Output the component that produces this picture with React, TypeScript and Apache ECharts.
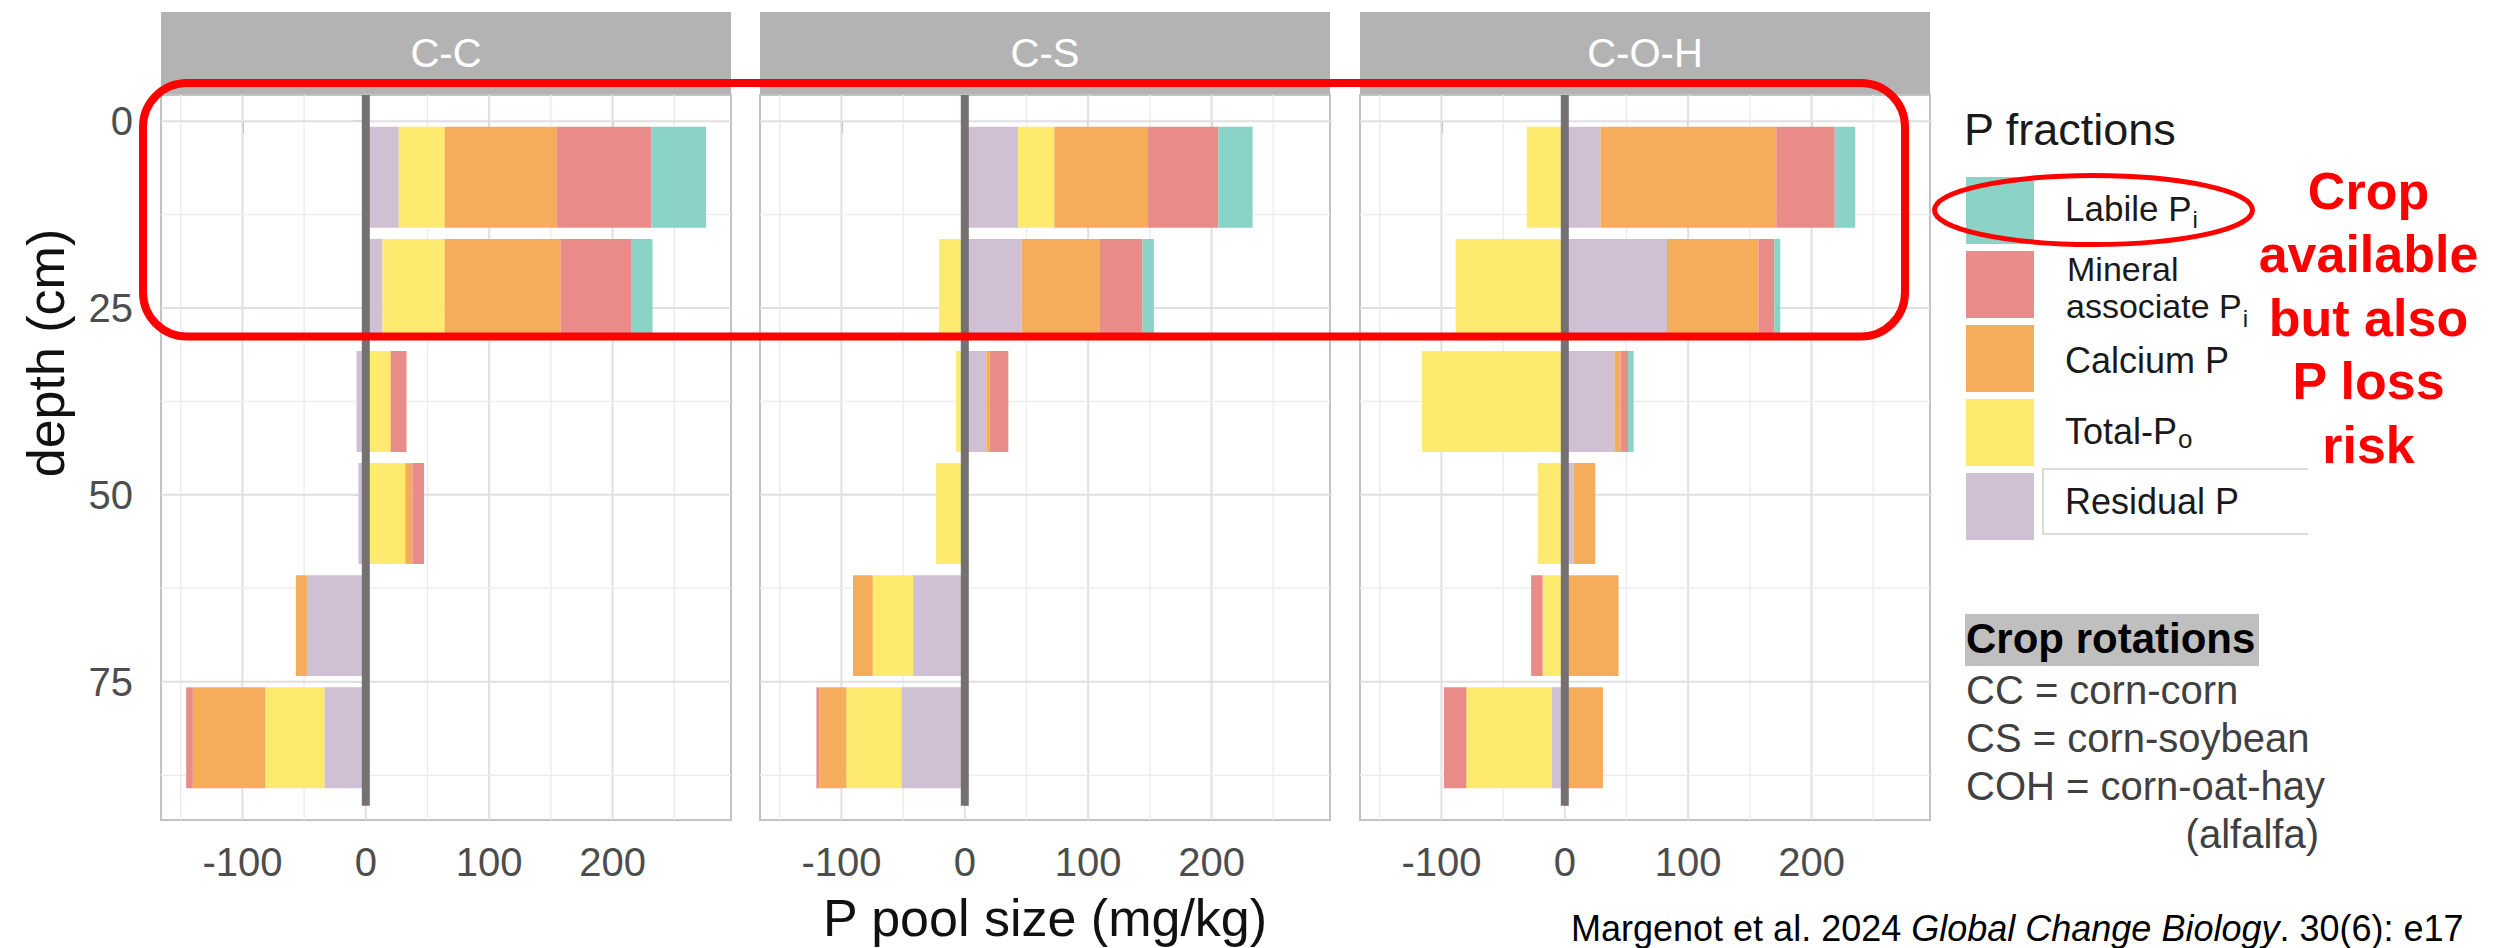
import React, { useEffect, useRef } from 'react';
import * as echarts from 'echarts';

// ---------------- data ----------------
const panelNames = ['C-C', 'C-S', 'C-O-H'];
const depths = [7.5, 22.5, 37.5, 52.5, 67.5, 82.5];
// stacking order from zero outward
const fractionKeys = ['Residual P', 'Total-Po', 'Calcium P', 'Mineral associate Pi', 'Labile Pi'];
const fractionColors = ['#CFC0D3', '#FEEA6E', '#F5AC5B', '#E98B88', '#8AD3C6'];

// C-C (mg/kg per depth)
const ccResidual = [26.7, 13.5, -7.5, -6, -47.8, -33.6];
const ccTotalPo = [37.2, 50.4, 20.2, 32, 0, -47.9];
const ccCalcium = [90.9, 94.1, 0, 5.8, -8.9, -58.7];
const ccMineral = [76.8, 57, 12.8, 9.4, 0, -5.4];
const ccLabile = [44.2, 17.4, 0, 0, 0, 0];

// C-S
const csResidual = [43.2, 46.1, 17.4, 0, -41.9, -51.5];
const csTotalPo = [29.4, -20.8, -7, -23.3, -32.7, -44.5];
const csCalcium = [75.3, 63.4, 2.6, 0, -16, -21.8];
const csMineral = [57.6, 34.5, 15.3, 0, 0, -2.5];
const csLabile = [27.8, 9.3, 0, 0, 0, 0];

// C-O-H
const cohResidual = [29, 82.8, 40.4, 7.2, 0, -10.4];
const cohTotalPo = [-30.8, -88.5, -115.7, -22, -18, -69.4];
const cohCalcium = [142.4, 74.2, 4.8, 17.5, 43.6, 30.9];
const cohMineral = [47.4, 12.8, 6, 0, -9.3, -18.2];
const cohLabile = [16.6, 4.8, 4.6, 0, 0, 0];

const panelValues = [
  [ccResidual, ccTotalPo, ccCalcium, ccMineral, ccLabile],
  [csResidual, csTotalPo, csCalcium, csMineral, csLabile],
  [cohResidual, cohTotalPo, cohCalcium, cohMineral, cohLabile],
];

const xTickValues = [-100, 0, 100, 200];
const xMinorValues = [-150, -50, 50, 150, 250];
const yTickValues = [0, 25, 50, 75];
const yMinorValues = [12.5, 37.5, 62.5, 87.5];

// ---------------- layout / style ----------------
const FONT = "'Liberation Sans', Arial, Helvetica, sans-serif";
const PANEL_LEFT = [161, 760, 1360];
const PANEL_TOP = 95;
const PANEL_W = 570;
const PANEL_H = 725;
const X_MIN = -166;
const X_MAX = 296;
const Y_MIN = -3.5;
const Y_MAX = 93.5;
const BAR_HALF = 6.75;
const ZERO_LINE_END = 91.6;

function stackPanel(values: number[][]) {
  const pos = depths.map(() => 0);
  const neg = depths.map(() => 0);
  return values.map((arr) => {
    const out: number[][] = [];
    arr.forEach((v, j) => {
      if (!v) return;
      if (v > 0) {
        out.push([pos[j], pos[j] + v, depths[j]]);
        pos[j] += v;
      } else {
        out.push([neg[j], neg[j] + v, depths[j]]);
        neg[j] += v;
      }
    });
    return out;
  });
}

function barRenderer(color: string) {
  return (params: any, api: any) => {
    const a = api.value(0);
    const b = api.value(1);
    const d = api.value(2);
    const p0 = api.coord([a, d - BAR_HALF]);
    const p1 = api.coord([b, d + BAR_HALF]);
    return {
      type: 'rect',
      shape: {
        x: Math.min(p0[0], p1[0]),
        y: Math.min(p0[1], p1[1]),
        width: Math.abs(p1[0] - p0[0]),
        height: Math.abs(p1[1] - p0[1]),
      },
      style: { fill: color },
    };
  };
}

function vGridRenderer(params: any, api: any) {
  const cs = params.coordSys;
  const p = api.coord([api.value(0), 0]);
  const major = api.value(2) === 1;
  return {
    type: 'line',
    shape: { x1: p[0], y1: cs.y, x2: p[0], y2: cs.y + cs.height },
    style: { stroke: major ? '#E0E0E0' : '#EDEDED', lineWidth: major ? 2 : 1.5 },
  };
}

function hGridRenderer(params: any, api: any) {
  const cs = params.coordSys;
  const p = api.coord([0, api.value(1)]);
  const major = api.value(2) === 1;
  return {
    type: 'line',
    shape: { x1: cs.x, y1: p[1], x2: cs.x + cs.width, y2: p[1] },
    style: { stroke: major ? '#E0E0E0' : '#EDEDED', lineWidth: major ? 2 : 1.5 },
  };
}

function zeroLineRenderer(params: any, api: any) {
  const p0 = api.coord([api.value(0), api.value(1)]);
  const p1 = api.coord([api.value(0), api.value(2)]);
  return {
    type: 'line',
    shape: { x1: p0[0], y1: p0[1], x2: p1[0], y2: p1[1] },
    style: { stroke: '#767171', lineWidth: 8 },
  };
}

function txt(x: number, y: number, text: string, fontSize: number, o: any = {}) {
  return {
    type: 'text',
    x,
    y,
    z: o.z ?? 50,
    rotation: o.rotation ?? 0,
    silent: true,
    style: {
      text,
      fontSize,
      fontFamily: FONT,
      fontWeight: o.fontWeight ?? 'normal',
      fontStyle: o.fontStyle ?? 'normal',
      fill: o.fill ?? '#1A1A1A',
      align: o.align ?? 'left',
      verticalAlign: 'middle',
      rich: o.rich,
    },
  };
}

function buildOption() {
  const grid = PANEL_LEFT.map((l) => ({
    left: l,
    top: PANEL_TOP,
    width: PANEL_W,
    height: PANEL_H,
    show: true,
    backgroundColor: '#FFFFFF',
    borderColor: '#C2C2C2',
    borderWidth: 2,
    containLabel: false,
    outerBoundsMode: 'none',
  }));

  const xAxis = PANEL_LEFT.map((_, i) => ({
    gridIndex: i,
    type: 'value',
    min: X_MIN,
    max: X_MAX,
    axisLine: { show: false },
    splitLine: { show: false },
    axisTick: { show: true, customValues: xTickValues, length: 12, lineStyle: { color: '#B3B3B3', width: 2 } },
    axisLabel: {
      customValues: xTickValues,
      color: '#4D4D4D',
      fontSize: 40,
      fontFamily: FONT,
      margin: 22,
    },
  }));

  const yAxis = PANEL_LEFT.map((_, i) => ({
    gridIndex: i,
    type: 'value',
    inverse: true,
    min: Y_MIN,
    max: Y_MAX,
    axisLine: { show: false },
    splitLine: { show: false },
    axisTick: { show: i === 0, customValues: yTickValues, length: 12, lineStyle: { color: '#B3B3B3', width: 2 } },
    axisLabel: {
      show: i === 0,
      customValues: yTickValues,
      color: '#4D4D4D',
      fontSize: 40,
      fontFamily: FONT,
      margin: 28,
    },
  }));

  const series: any[] = [];
  panelValues.forEach((vals, i) => {
    series.push({
      type: 'custom',
      name: 'vgrid' + i,
      xAxisIndex: i,
      yAxisIndex: i,
      z: 1,
      silent: true,
      encode: { x: 0, y: 1 },
      data: [...xTickValues.map((v) => [v, 0, 1]), ...xMinorValues.map((v) => [v, 0, 0])],
      renderItem: vGridRenderer,
    });
    series.push({
      type: 'custom',
      name: 'hgrid' + i,
      xAxisIndex: i,
      yAxisIndex: i,
      z: 1,
      silent: true,
      encode: { x: 0, y: 1 },
      data: [...yTickValues.map((v) => [0, v, 1]), ...yMinorValues.map((v) => [0, v, 0])],
      renderItem: hGridRenderer,
    });
    const stacks = stackPanel(vals);
    stacks.forEach((data, f) => {
      series.push({
        type: 'custom',
        name: fractionKeys[f],
        xAxisIndex: i,
        yAxisIndex: i,
        z: 2,
        silent: true,
        encode: { x: [0, 1], y: 2 },
        data,
        renderItem: barRenderer(fractionColors[f]),
      });
    });
    series.push({
      type: 'custom',
      name: 'zero' + i,
      xAxisIndex: i,
      yAxisIndex: i,
      z: 3,
      silent: true,
      encode: { x: 0, y: [1, 2] },
      data: [[0, Y_MIN, ZERO_LINE_END]],
      renderItem: zeroLineRenderer,
    });
  });

  const graphic: any[] = [];
  // strips
  PANEL_LEFT.forEach((l, i) => {
    graphic.push({
      type: 'rect',
      z: 5,
      silent: true,
      shape: { x: l, y: 12, width: PANEL_W, height: 82 },
      style: { fill: '#B3B3B3' },
    });
    graphic.push(txt(l + PANEL_W / 2, 52.5, panelNames[i], 40, { fill: '#FFFFFF', align: 'center', z: 6 }));
  });

  // axis titles
  graphic.push(txt(1045, 918, 'P pool size (mg/kg)', 52, { align: 'center', fill: '#111111' }));
  graphic.push(txt(46, 353, 'depth (cm)', 52, { align: 'center', fill: '#111111', rotation: Math.PI / 2 }));

  // legend
  graphic.push(txt(1964, 129.5, 'P fractions', 45, { fill: '#1A1A1A' }));
  const legendOrder = [4, 3, 2, 1, 0];
  legendOrder.forEach((f, k) => {
    graphic.push({
      type: 'rect',
      z: 40,
      silent: true,
      shape: { x: 1966, y: 177 + k * 74, width: 68, height: 67 },
      style: { fill: fractionColors[f] },
    });
  });
  graphic.push(
    txt(2065, 208, 'Labile P{s|i}', 35, {
      rich: { s: { fontSize: 24, fontFamily: FONT, fill: '#1A1A1A', padding: [22, 0, 0, 1] } },
    })
  );
  graphic.push(txt(2067, 268.5, 'Mineral', 34));
  graphic.push(
    txt(2066, 305.6, 'associate P{s|i}', 34, {
      rich: { s: { fontSize: 24, fontFamily: FONT, fill: '#1A1A1A', padding: [26, 0, 0, 1] } },
    })
  );
  graphic.push(txt(2065, 360.5, 'Calcium P', 36));
  graphic.push(
    txt(2065, 431, 'Total-P{s|o}', 36, {
      rich: { s: { fontSize: 26, fontFamily: FONT, fill: '#1A1A1A', padding: [16, 0, 0, 1] } },
    })
  );
  graphic.push(txt(2065, 501, 'Residual P', 36));
  graphic.push({
    type: 'polyline',
    z: 30,
    silent: true,
    shape: { points: [[2308, 469], [2043, 469], [2043, 534], [2308, 534]] },
    style: { stroke: '#CFCFCF', lineWidth: 1.5, fill: 'none' },
  });

  // red annotations
  graphic.push({
    type: 'rect',
    z: 100,
    silent: true,
    shape: { x: 143, y: 83, width: 1762, height: 253.5, r: 44 },
    style: { fill: 'none', stroke: '#FF0000', lineWidth: 8 },
  });
  graphic.push({
    type: 'ellipse',
    z: 100,
    silent: true,
    shape: { cx: 2093.5, cy: 210, rx: 159, ry: 34.5 },
    style: { fill: 'none', stroke: '#FF0000', lineWidth: 5 },
  });
  const redLines = ['Crop', 'available', 'but also', 'P loss', 'risk'];
  redLines.forEach((t, k) => {
    graphic.push(txt(2368.5, 190.5 + k * 63.5, t, 52, { fill: '#FF0000', fontWeight: 'bold', align: 'center' }));
  });

  // crop rotations
  graphic.push({
    type: 'rect',
    z: 40,
    silent: true,
    shape: { x: 1965, y: 614, width: 294, height: 52 },
    style: { fill: '#BFBFBF' },
  });
  graphic.push(txt(1966, 638.5, 'Crop rotations', 42, { fontWeight: 'bold', fill: '#000000' }));
  graphic.push(txt(1966, 689.5, 'CC = corn-corn', 40, { fill: '#404040' }));
  graphic.push(txt(1966, 738, 'CS = corn-soybean', 40, { fill: '#404040' }));
  graphic.push(txt(1966, 785.5, 'COH = corn-oat-hay', 40, { fill: '#404040' }));
  graphic.push(txt(2319, 833.5, '(alfalfa)', 40, { fill: '#404040', align: 'right' }));

  // citation
  graphic.push(
    txt(1571, 928, 'Margenot et al. 2024 {i|Global Change Biology}. 30(6): e17', 36, {
      fill: '#000000',
      rich: { i: { fontSize: 36, fontFamily: FONT, fontStyle: 'italic', fill: '#000000' } },
    })
  );

  return {
    animation: false,
    backgroundColor: '#FFFFFF',
    grid,
    xAxis,
    yAxis,
    series,
    graphic,
  };
}

export default function App() {
  const ref = useRef<HTMLDivElement>(null);
  useEffect(() => {
    if (!ref.current) return;
    const chart = echarts.init(ref.current, undefined, { renderer: 'svg' });
    chart.setOption(buildOption() as any);
    return () => {
      chart.dispose();
    };
  }, []);
  return (
    <div
      ref={ref}
      style={{ position: 'fixed', left: 0, top: 0, width: 2494, height: 948, background: '#FFFFFF', overflow: 'hidden' }}
    />
  );
}
